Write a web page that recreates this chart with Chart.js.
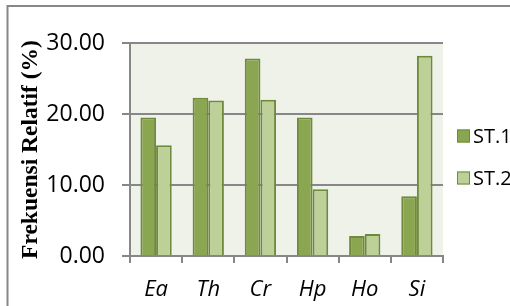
<!DOCTYPE html>
<html lang="en">

<head>
    <meta charset="utf-8">
    <script src="https://cdn.jsdelivr.net/npm/chart.js"></script>
    <style>
        body { margin: 0; background: #ffffff; }
    </style>
</head>

<body>
    <!-- Bar chart canvas -->
    <canvas id="BarChart" width="510" height="306"></canvas>

    <script>
        // Chart data
        const categories = ['Ea', 'Th', 'Cr', 'Hp', 'Ho', 'Si'];
        const seriesNames = ['ST.1', 'ST.2'];
        const st1Values = [19.5, 22.3, 27.8, 19.5, 2.8, 8.4];
        const st2Values = [15.6, 21.9, 22.0, 9.4, 3.1, 28.2];
        const yTicks = [0, 10, 20, 30];
        const yTitle = 'Frekuensi Relatif (%)';

        const colorSt1 = '#8ba650';
        const colorSt2 = '#bdd098';
        const barBorder = '#6e8a3b';
        const gridGray = '#878787';

        // Plot background + outer frame
        const backgroundPlugin = {
            id: 'plotBackground',
            beforeDraw(chart) {
                const ctx = chart.ctx;
                const a = chart.chartArea;
                ctx.save();
                ctx.fillStyle = '#eff2e9';
                ctx.fillRect(a.left, a.top, a.right - a.left, a.bottom - a.top);
                ctx.strokeStyle = gridGray;
                ctx.lineWidth = 2;
                ctx.strokeRect(7.5, 6, 600, 400);
                ctx.restore();
            }
        };

        // Simple legend on the right side
        const legendPlugin = {
            id: 'sideLegend',
            afterDraw(chart) {
                const ctx = chart.ctx;
                const rows = [136, 178];
                ctx.save();
                ctx.font = '20px "Open Sans"';
                ctx.textBaseline = 'middle';
                ctx.textAlign = 'left';
                chart.data.datasets.forEach((ds, i) => {
                    const y = rows[i];
                    ctx.fillStyle = ds.backgroundColor;
                    ctx.fillRect(457, y - 6.5, 13, 13);
                    ctx.strokeStyle = barBorder;
                    ctx.lineWidth = 1;
                    ctx.strokeRect(457.5, y - 6, 12, 12);
                    ctx.fillStyle = '#000000';
                    ctx.fillText(ds.label, 473, y + 1);
                });
                ctx.restore();
            }
        };

        const ctx = document.getElementById('BarChart').getContext('2d');
        const myChart = new Chart(ctx, {
            type: 'bar',
            data: {
                labels: categories,
                datasets: [{
                    label: seriesNames[0],
                    data: st1Values,
                    backgroundColor: colorSt1,
                    borderColor: barBorder,
                    borderWidth: 2,
                }, {
                    label: seriesNames[1],
                    data: st2Values,
                    backgroundColor: colorSt2,
                    borderColor: barBorder,
                    borderWidth: 2,
                }],
            },
            options: {
                responsive: false,
                animation: false,
                devicePixelRatio: 1,
                categoryPercentage: 0.6,
                barPercentage: 1.0,
                layout: {
                    padding: { left: 0, top: 43, right: 67, bottom: 0 }
                },
                plugins: {
                    legend: { display: false },
                    tooltip: { enabled: false },
                },
                scales: {
                    x: {
                        grid: {
                            drawOnChartArea: false,
                            drawTicks: true,
                            tickLength: 7,
                            color: gridGray,
                            lineWidth: 2,
                            offset: true,
                        },
                        border: { display: true, color: gridGray, width: 2 },
                        ticks: {
                            color: '#000000',
                            padding: 14,
                            font: { family: '"Open Sans"', size: 22, style: 'italic' },
                        },
                        afterFit(scale) { scale.height = 50; },
                    },
                    y: {
                        min: 0,
                        max: 30,
                        afterBuildTicks(scale) {
                            scale.ticks = yTicks.map(v => ({ value: v }));
                        },
                        grid: {
                            color: gridGray,
                            lineWidth: 2,
                            tickLength: 8,
                        },
                        border: { display: true, color: gridGray, width: 2 },
                        ticks: {
                            color: '#000000',
                            padding: 17,
                            font: { family: '"Open Sans"', size: 23 },
                            callback: v => Number(v).toFixed(2),
                        },
                        title: {
                            display: true,
                            text: yTitle,
                            color: '#000000',
                            padding: { top: 17, bottom: 0 },
                            font: { family: '"Liberation Serif"', size: 23.5, weight: 'bold' },
                        },
                        afterFit(scale) { scale.width = 130; },
                    },
                },
            },
            plugins: [backgroundPlugin, legendPlugin],
        });
    </script>
</body>

</html>
